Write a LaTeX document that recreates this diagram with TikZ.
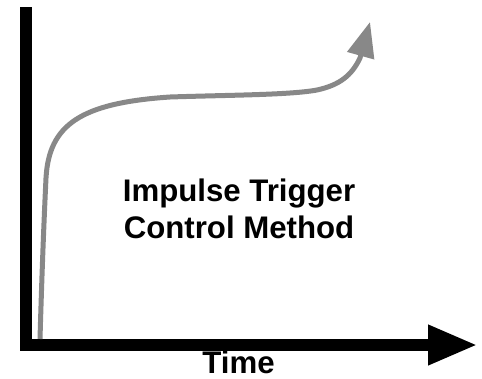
\documentclass[tikz,border=0pt]{standalone}
\usepackage{fontspec}
\setmainfont{Liberation Sans}
\usetikzlibrary{arrows.meta}
\definecolor{curvegray}{RGB}{136,136,136}
\tikzset{
  axisline/.style={line width=12.7pt, black, line join=miter, -{Triangle[length=50pt,width=37pt]}},
  growth/.style={line width=5pt, curvegray, -{Triangle[length=35pt,width=27pt]}},
  label/.style={font=\bfseries\fontsize{31.2}{37}\selectfont, inner sep=0pt, align=center, text=black}
}
\begin{document}
\begin{tikzpicture}[x=1pt,y=-1pt]
\useasboundingbox (0,0) rectangle (482,378);
\fill[white] (0,0) rectangle (482,378);
\coordinate (ytop) at (26,7);
\coordinate (origin) at (26,345);
\coordinate (xtip) at (478,345);
\draw[axisline] (ytop) -- (origin) -- (xtip);
\coordinate (cstart) at (40,339);
\coordinate (ctip) at (370,22);
\draw[growth] (cstart) .. controls (42,270) and (44,220) .. (46,178)
  .. controls (49,125) and (80,103) .. (170,97)
  .. controls (230,95) and (290,95) .. (317,90)
  .. controls (340,85) and (352,75) .. (360,58) -- (ctip);
\node[label, anchor=base] (title) at (239,238) {Impulse Trigger\\Control Method};
\node[label, anchor=base] (time) at (238.5,373) {Time};
\end{tikzpicture}
\end{document}
